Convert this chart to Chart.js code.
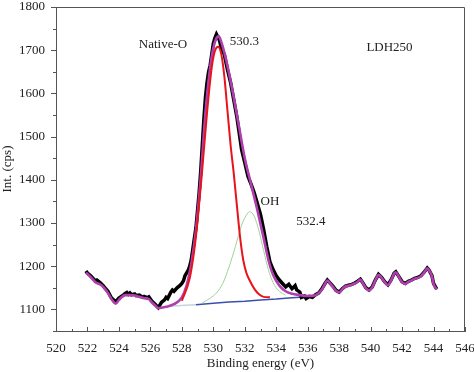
<!DOCTYPE html>
<html>
<head>
<meta charset="utf-8">
<script src="https://cdn.jsdelivr.net/npm/chart.js@4.4.1/dist/chart.umd.min.js"></script>
<style>
    html, body { margin: 0; padding: 0; background: #fff; }
    #wrap { width: 474px; height: 372px; }
</style>
</head>
<body>
<div id="wrap"><canvas id="xpsChart" width="474" height="372"></canvas></div>
<script>
// O 1s spectrum, LDH250 sample
const rawEnergy = [
    521.9, 522.0, 522.2, 522.4, 522.5, 522.6, 522.8, 523.0, 523.1, 523.3,
    523.5, 523.6, 523.8, 523.9, 524.0, 524.2, 524.4, 524.5, 524.6, 524.7,
    524.8, 525.0, 525.1, 525.3, 525.5, 525.6, 525.8, 525.9, 526.1, 526.3,
    526.5, 526.6, 526.7, 526.9, 527.0, 527.1, 527.3, 527.4, 527.5, 527.7,
    527.9, 528.0, 528.1, 528.2, 528.4, 528.5, 528.6, 528.7, 528.8, 528.9,
    529.0, 529.1, 529.2, 529.3, 529.4, 529.5, 529.6, 529.7, 529.8, 529.9,
    530.0, 530.1, 530.2, 530.3, 530.4, 530.5, 530.7, 530.9, 531.1, 531.3,
    531.5, 531.7, 531.8, 532.0, 532.2, 532.4, 532.6, 532.8, 533.0, 533.2,
    533.4, 533.6, 533.8, 534.0, 534.2, 534.4, 534.6, 534.8, 535.0, 535.2,
    535.3, 535.5, 535.6, 535.8, 535.9, 536.1, 536.3, 536.5, 536.7, 536.9,
    537.1, 537.25, 537.4, 537.6, 537.8, 538.0, 538.2, 538.4, 538.6, 538.8,
    539.0, 539.2, 539.35, 539.5, 539.7, 539.9, 540.1, 540.3, 540.5, 540.7,
    540.9, 541.1, 541.3, 541.5, 541.6, 541.8, 542.0, 542.2, 542.4, 542.6,
    542.8, 543.0, 543.2, 543.4, 543.6, 543.7, 543.9, 544.0, 544.2
];
const rawCounts = [
    1189, 1184, 1178, 1170, 1166, 1168, 1162, 1155, 1150, 1142,
    1128, 1124, 1118, 1122, 1126, 1131, 1137, 1139, 1135, 1138,
    1134, 1136, 1132, 1133, 1128, 1130, 1127, 1129, 1119, 1112,
    1104, 1110, 1116, 1122, 1128, 1125, 1140, 1145, 1142, 1150,
    1156, 1160, 1166, 1178, 1190, 1200, 1215, 1240, 1265, 1290,
    1330, 1370, 1420, 1480, 1540, 1590, 1625, 1650, 1665, 1690,
    1715, 1728, 1737, 1730, 1722, 1705, 1690, 1655, 1625, 1585,
    1545, 1495, 1470, 1440, 1408, 1390, 1370, 1345, 1320, 1285,
    1245, 1210, 1192, 1178, 1168, 1160, 1152, 1158, 1148, 1155,
    1145, 1140, 1128, 1131, 1125, 1130, 1128, 1134, 1138, 1148,
    1160, 1168, 1162, 1154, 1144, 1140, 1148, 1154, 1156, 1158,
    1161, 1166, 1170, 1162, 1150, 1145, 1152, 1168, 1181, 1174,
    1164, 1157, 1168, 1184, 1187, 1176, 1164, 1160, 1165, 1168,
    1172, 1174, 1178, 1186, 1196, 1192, 1178, 1160, 1147
];

// fitted envelope
const fitEnergy = [
    521.9, 522.2, 522.5, 522.8, 523.0, 523.3, 523.6, 523.8, 524.0, 524.4,
    524.7, 525.0, 525.3, 525.6, 525.9, 526.1, 526.3, 526.5, 527.0, 527.5,
    528.0, 528.3, 528.6, 528.9, 529.2, 529.5, 529.8, 530.0, 530.2, 530.35,
    530.5, 530.8, 531.2, 531.6, 532.0, 532.4, 532.8, 533.2, 533.5, 533.8,
    534.2, 534.6, 535.0, 535.5, 536.0, 536.5, 536.9, 537.1, 537.25, 537.4,
    537.6, 537.8, 538.0, 538.2, 538.4, 538.6, 538.8, 539.0, 539.2, 539.35,
    539.5, 539.7, 539.9, 540.1, 540.3, 540.5, 540.7, 540.9, 541.1, 541.3,
    541.5, 541.6, 541.8, 542.0, 542.2, 542.4, 542.6, 542.8, 543.0, 543.2,
    543.4, 543.6, 543.7, 543.9, 544.0, 544.2
];
const fitCounts = [
    1185, 1175, 1163, 1158, 1152, 1138, 1120, 1113, 1122, 1133,
    1133, 1132, 1129, 1126, 1124, 1116, 1109, 1103, 1106, 1112,
    1128, 1155, 1205, 1285, 1405, 1555, 1660, 1705, 1728, 1732,
    1720, 1680, 1610, 1530, 1450, 1390, 1330, 1265, 1215, 1180,
    1155, 1142, 1136, 1133, 1131, 1133, 1146, 1159, 1167, 1161,
    1152, 1143, 1139, 1147, 1153, 1155, 1157, 1160, 1165, 1169,
    1161, 1149, 1144, 1151, 1167, 1180, 1173, 1163, 1156, 1167,
    1183, 1186, 1175, 1163, 1159, 1164, 1167, 1171, 1173, 1177,
    1185, 1195, 1191, 1177, 1159, 1146
];

// Native-O component (530.3 eV)
const nativeEnergy = [
    528.0, 528.5, 528.8, 529.0, 529.3, 529.6, 529.9, 530.1, 530.3, 530.5,
    530.7, 530.9, 531.1, 531.3, 531.5, 531.7, 531.9, 532.1, 532.3, 532.6,
    532.9, 533.2, 533.6
];
const nativeCounts = [
    1120, 1172, 1240, 1305, 1425, 1555, 1660, 1698, 1708, 1692,
    1640, 1560, 1480, 1415, 1340, 1268, 1215, 1185, 1168, 1148,
    1135, 1129, 1128
];

// OH component (532.4 eV)
const ohEnergy = [
    529.3, 529.8, 530.2, 530.6, 531.0, 531.4, 531.8, 532.1, 532.3, 532.6,
    532.9, 533.2, 533.5, 533.8, 534.2, 534.6
];
const ohCounts = [
    1115, 1126, 1138, 1160, 1198, 1245, 1295, 1318, 1326, 1316,
    1282, 1236, 1192, 1162, 1142, 1133
];

// background
const baseEnergy = [526.5, 527.5, 528.5, 528.9, 530.0, 531.0, 532.0, 533.0, 534.0, 535.0, 536.3];
const baseCounts = [1105, 1108, 1110, 1111, 1114, 1117, 1119, 1122, 1124, 1127, 1130];

const xTicks = [520, 522, 524, 526, 528, 530, 532, 534, 536, 538, 540, 542, 544, 546];
const yTicks = [1100, 1200, 1300, 1400, 1500, 1600, 1700, 1800];

const notes = [
    { text: 'Native-O', x: 526.8, y: 1714, align: 'center' },
    { text: '530.3', x: 531.05, y: 1720, align: 'left' },
    { text: 'LDH250', x: 541.2, y: 1706, align: 'center' },
    { text: 'OH', x: 533.6, y: 1349, align: 'center' },
    { text: '532.4', x: 536.2, y: 1303, align: 'center' }
];

const SERIF = "'Liberation Serif', 'DejaVu Serif', serif";
const AXIS_COLOR = '#555';

function toPoints(xs, ys) {
    return xs.map((x, i) => ({ x: x, y: ys[i] }));
}

// box frame, tick marks (x inward, y outward) and the text labels
const framePlugin = {
    id: 'frame',
    afterDraw(chart) {
        const { ctx, chartArea, scales } = chart;
        ctx.save();
        ctx.strokeStyle = AXIS_COLOR;
        ctx.lineWidth = 1;
        ctx.beginPath();
        ctx.moveTo(chartArea.left, chartArea.top + 0.5);
        ctx.lineTo(chartArea.right - 0.5, chartArea.top + 0.5);
        ctx.lineTo(chartArea.right - 0.5, chartArea.bottom);

        scales.x.ticks.forEach(t => {
            const px = Math.round(scales.x.getPixelForValue(t.value)) + 0.5;
            const len = xTicks.includes(t.value) ? 4 : 2;
            ctx.moveTo(px, chartArea.bottom);
            ctx.lineTo(px, chartArea.bottom - len);
        });
        scales.y.ticks.forEach(t => {
            const py = Math.round(scales.y.getPixelForValue(t.value)) + 0.5;
            const len = yTicks.includes(t.value) ? 5 : 3;
            ctx.moveTo(chartArea.left, py);
            ctx.lineTo(chartArea.left - len, py);
        });
        ctx.stroke();

        ctx.fillStyle = '#222';
        ctx.font = '13px ' + SERIF;
        ctx.textBaseline = 'middle';
        notes.forEach(n => {
            ctx.textAlign = n.align;
            ctx.fillText(n.text, scales.x.getPixelForValue(n.x), scales.y.getPixelForValue(n.y));
        });
        ctx.restore();
    }
};

const ctx = document.getElementById('xpsChart').getContext('2d');
new Chart(ctx, {
    type: 'line',
    data: {
        datasets: [
            {
                label: 'Background',
                data: toPoints(baseEnergy, baseCounts),
                borderColor: '#3b4fae',
                borderWidth: 1.5,
                pointRadius: 0,
                segment: {
                    borderColor: c => c.p1.parsed.x <= 528.9 ? '#c9d3dc' : '#3b4fae'
                },
                order: 5
            },
            {
                label: 'OH',
                data: toPoints(ohEnergy, ohCounts),
                borderColor: '#9fd296',
                borderWidth: 1,
                pointRadius: 0,
                cubicInterpolationMode: 'monotone',
                order: 4
            },
            {
                label: 'Raw',
                data: toPoints(rawEnergy, rawCounts),
                borderColor: '#000',
                borderWidth: 3.5,
                pointRadius: 0,
                tension: 0,
                order: 3
            },
            {
                label: 'Envelope',
                data: toPoints(fitEnergy, fitCounts),
                borderColor: '#b03fae',
                borderWidth: 2.6,
                pointRadius: 0,
                cubicInterpolationMode: 'monotone',
                order: 2
            },
            {
                label: 'Native-O',
                data: toPoints(nativeEnergy, nativeCounts),
                borderColor: '#e8141c',
                borderWidth: 2,
                pointRadius: 0,
                cubicInterpolationMode: 'monotone',
                order: 1
            }
        ]
    },
    options: {
        responsive: false,
        animation: false,
        layout: { padding: { left: 0, right: 9, top: 7, bottom: 0 } },
        plugins: {
            legend: { display: false },
            tooltip: { enabled: false }
        },
        scales: {
            x: {
                type: 'linear',
                min: 520,
                max: 546,
                afterFit: scale => {
                    scale.height = 41;
                    scale.paddingLeft = 0;
                    scale.paddingRight = 0;
                },
                border: { color: AXIS_COLOR, width: 1 },
                grid: { drawOnChartArea: false, drawTicks: false },
                ticks: {
                    stepSize: 1,
                    autoSkip: false,
                    maxRotation: 0,
                    padding: 10,
                    color: '#222',
                    font: { family: SERIF, size: 13 },
                    callback: v => xTicks.includes(v) ? String(v) : ''
                },
                title: {
                    display: true,
                    text: 'Binding energy (eV)',
                    color: '#222',
                    font: { family: SERIF, size: 13 },
                    padding: { top: 0, bottom: 1 }
                }
            },
            y: {
                min: 1050,
                max: 1800,
                afterFit: scale => {
                    scale.width = 56;
                    scale.paddingTop = 0;
                    scale.paddingBottom = 0;
                },
                border: { color: AXIS_COLOR, width: 1 },
                grid: { drawOnChartArea: false, drawTicks: false },
                ticks: {
                    stepSize: 50,
                    autoSkip: false,
                    padding: 11,
                    color: '#222',
                    font: { family: SERIF, size: 13 },
                    callback: v => yTicks.includes(v) ? String(v) : ''
                },
                title: {
                    display: true,
                    text: 'Int. (cps)',
                    color: '#222',
                    font: { family: SERIF, size: 13 },
                    padding: { top: 0, bottom: 0 }
                }
            }
        }
    },
    plugins: [framePlugin]
});
</script>
</body>
</html>
